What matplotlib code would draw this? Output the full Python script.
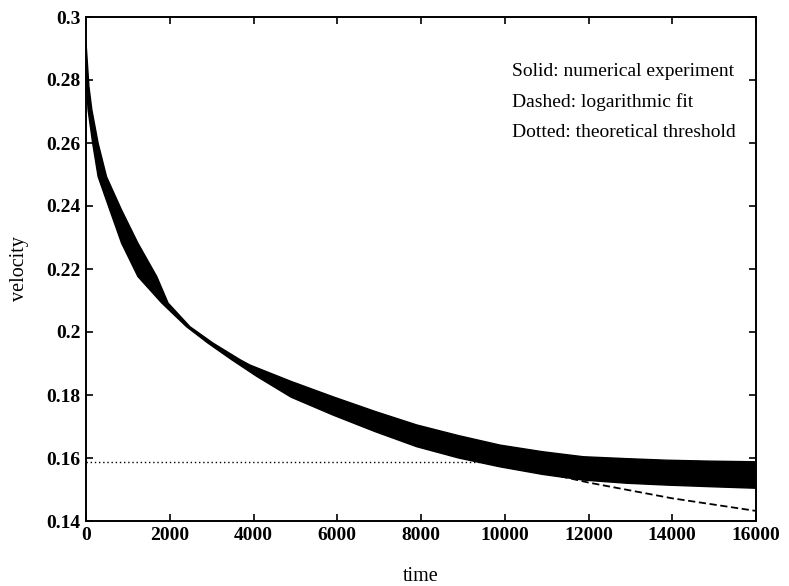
import numpy as np
import matplotlib
matplotlib.use("Agg")
from matplotlib import pyplot as plt

########## values ##########

# upper edge of the oscillating numerical experiment
t_up = [0, 70, 140, 290, 490, 850, 1240, 1690, 1960, 2480, 3030, 3680, 3916,
        4900, 5906, 6900, 7896, 8900, 9886, 10900, 11875, 12900, 13866, 14900, 16000]
v_up = [0.292, 0.2779, 0.2705, 0.2599, 0.2493, 0.2387, 0.2282, 0.2176, 0.2092,
        0.2017, 0.1965, 0.1912, 0.1895, 0.1843, 0.1794, 0.1748, 0.1705, 0.1671,
        0.1641, 0.1620, 0.1604, 0.1598, 0.1593, 0.1590, 0.1588]

# lower edge of the oscillating numerical experiment
t_lo = [0, 15, 50, 160, 290, 570, 850, 1240, 1810, 2400, 2910, 3480, 4080,
        4900, 5906, 6900, 7896, 8900, 9886, 10900, 11875, 12900, 13866, 14900, 16000]
v_lo = [0.2917, 0.2779, 0.2705, 0.2599, 0.2493, 0.2387, 0.2282, 0.2176, 0.2092,
        0.2017, 0.1965, 0.1912, 0.1859, 0.1793, 0.1736, 0.1684, 0.1636, 0.1600,
        0.1572, 0.1548, 0.1530, 0.1520, 0.1514, 0.1509, 0.1504]

# logarithmic fit (dashed), hidden under the band until about t = 12000
t_fit = [4000, 6000, 8000, 10000, 12000, 13000, 14000, 15000, 16000]
v_fit = [0.1870, 0.1745, 0.1652, 0.1582, 0.1522, 0.1497, 0.1472, 0.1452, 0.1432]

# theoretical threshold (dotted)
threshold = 0.1586

x_ticks = [0, 2000, 4000, 6000, 8000, 10000, 12000, 14000, 16000]
y_ticks = [0.14, 0.16, 0.18, 0.2, 0.22, 0.24, 0.26, 0.28, 0.3]
y_labels = ["0.14", "0.16", "0.18", "0.2", "0.22", "0.24", "0.26", "0.28", "0.3"]

notes = ["Solid: numerical experiment",
         "Dashed: logarithmic fit",
         "Dotted: theoretical threshold"]

########## figure ##########

plt.rcParams['font.family'] = ['Liberation Serif', 'DejaVu Serif']

fig = plt.figure(figsize=(7.89, 5.86), dpi=100)
ax = fig.add_axes([86 / 789, 65 / 586, 670 / 789, 504 / 586])

# band drawn as one closed outline: upper edge left to right, lower edge back
ax.fill(np.r_[t_up, t_lo[::-1]], np.r_[v_up, v_lo[::-1]],
        facecolor='black', edgecolor='black', linewidth=1.0)
ax.plot(t_fit, v_fit, color='black', linewidth=1.3, dashes=(4, 2))
ax.axhline(threshold, color='black', linewidth=1.0, linestyle=(0, (1, 2)))

ax.set_xlim(0, 16000)
ax.set_ylim(0.14, 0.3)
ax.set_xticks(x_ticks)
ax.set_yticks(y_ticks)
ax.set_yticklabels(y_labels)
ax.tick_params(direction='in', top=True, right=True, length=5, width=1.2,
               labelsize=14, pad=4)
for lab in ax.get_xticklabels() + ax.get_yticklabels():
    lab.set_fontweight('bold')
for sp in ax.spines.values():
    sp.set_linewidth(1.4)

ax.set_xlabel("time", fontsize=14.5)
ax.xaxis.set_label_coords(0.5, -0.119)
ax.xaxis.label.set_va('baseline')
ax.set_ylabel("velocity", fontsize=14.5, labelpad=12)

for i, s in enumerate(notes):
    ax.text(0.636, 0.891 - i * 0.0605, s, transform=ax.transAxes,
            fontsize=14, va='center', ha='left')

fig.savefig("out.png", dpi=100)
